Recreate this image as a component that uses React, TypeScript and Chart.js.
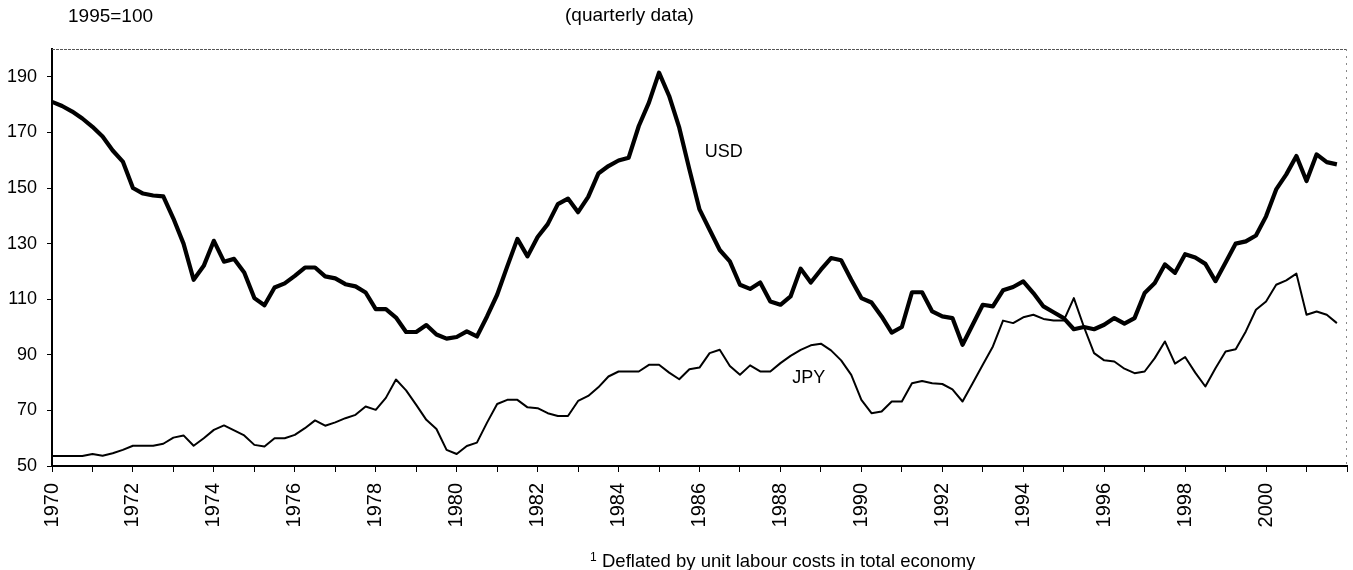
import React, { useEffect, useRef } from "react";
import { Chart, registerables } from "chart.js";

Chart.register(...registerables);

// ---- Data (quarterly, 1970Q1 .. 2001Q4) ----
const startYear = 1970;
const quartersPerYear = 4;

const usd = [
  181, 179.5, 177.5, 175,
  172, 168.5, 163.5, 159.5,
  150, 148, 147.3, 147,
  139, 130, 117, 122,
  131, 123.5, 124.5, 119.6,
  110.4, 107.8, 114.2, 115.7,
  118.4, 121.4, 121.4, 118.2,
  117.5, 115.4, 114.6, 112.4,
  106.4, 106.4, 103.4, 98.2,
  98.2, 100.7, 97.3, 95.8,
  96.4, 98.4, 96.6, 103.8,
  111.6, 121.8, 131.7, 125.4,
  132.4, 137, 144.2, 146.2,
  141.3, 146.8, 155.2, 157.9,
  159.9, 160.9, 172.3, 180.7,
  191.5, 183.1, 171.7, 156.7,
  142.3, 135, 127.7, 123.6,
  115.2, 113.7, 116, 109.2,
  108, 111, 121, 116,
  120.6, 124.8, 124, 117,
  110.4, 108.8, 103.8, 98,
  100, 112.5, 112.5, 105.6,
  103.8, 103.2, 93.6, 100.8,
  108, 107.4, 113.2, 114.4,
  116.4, 112.2, 107.4, 105.3,
  103.2, 99.2, 100, 99.2,
  100.8, 103.2, 101.2, 103.2,
  112.2, 115.8, 122.5, 119.5,
  126.2, 125, 122.7, 116.5,
  123.2, 130, 130.8, 132.9,
  139.8, 149.5, 154.9, 161.5,
  152.5, 162.1, 159.3, 158.5,
];

const jpy = [
  53.6, 53.6, 53.6, 53.6,
  54.3, 53.7, 54.6, 55.8,
  57.3, 57.3, 57.3, 58,
  60.2, 61, 57.3, 60,
  63, 64.6, 62.8, 61,
  57.6, 57, 60, 60,
  61.2, 63.6, 66.4, 64.5,
  65.7, 67.2, 68.4, 71.4,
  70.2, 74.5, 81.1, 77.2,
  72, 66.6, 63.3, 55.8,
  54.3, 57.2, 58.4, 65.6,
  72.3, 73.8, 73.8, 71.1,
  70.8, 69, 68, 68,
  73.4, 75.2, 78.3, 82.2,
  84, 84, 84, 86.4,
  86.4, 83.6, 81.2, 84.8,
  85.4, 90.6, 91.8, 86,
  82.8, 86.2, 84, 84,
  87, 89.6, 91.8, 93.4,
  94, 91.6, 88, 82.8,
  73.8, 69, 69.6, 73.2,
  73.2, 79.8, 80.6, 79.8,
  79.5, 77.6, 73.2, 79.8,
  86.4, 93, 102.3, 101.4,
  103.5, 104.4, 102.9, 102.3,
  102.3, 110.4, 100, 90.6,
  88, 87.6, 85, 83.4,
  84, 88.8, 94.8, 86.8,
  89.2, 83.6, 78.6, 85.2,
  91.2, 92, 98.4, 106.2,
  109.2, 115.2, 116.8, 119.2,
  104.4, 105.6, 104.4, 101.4,
];

const yTickValues = [50, 70, 90, 110, 130, 150, 170, 190];
const xTickYears = [
  1970, 1971, 1972, 1973, 1974, 1975, 1976, 1977, 1978, 1979, 1980,
  1981, 1982, 1983, 1984, 1985, 1986, 1987, 1988, 1989, 1990, 1991,
  1992, 1993, 1994, 1995, 1996, 1997, 1998, 1999, 2000, 2001, 2002,
];
const xLabelYears = [
  1970, 1972, 1974, 1976, 1978, 1980, 1982, 1984, 1986, 1988, 1990,
  1992, 1994, 1996, 1998, 2000,
];

const unitText = "1995=100";
const subtitleText = "(quarterly data)";
const footnoteMark = "1";
const footnoteText = "Deflated by unit labour costs in total economy";
const seriesNames = ["USD", "JPY"];

const FONT = "'Liberation Sans', Arial, Helvetica, sans-serif";

function toPoints(values: number[]) {
  return values.map((v, i) => ({ x: startYear + i / quartersPerYear, y: v }));
}

const annotationPlugin = {
  id: "annotations",
  afterDraw(chart: any) {
    const ctx = chart.ctx as CanvasRenderingContext2D;
    const xs = chart.scales.x;
    const ys = chart.scales.y;
    const ca = chart.chartArea;
    ctx.save();
    // top & right frame (dotted)
    ctx.strokeStyle = "#555";
    ctx.lineWidth = 1;
    ctx.setLineDash([3, 1]);
    ctx.beginPath();
    ctx.moveTo(ca.left, ca.top + 0.5);
    ctx.lineTo(ca.right, ca.top + 0.5);
    ctx.stroke();
    ctx.strokeStyle = "#888";
    ctx.setLineDash([2, 5]);
    ctx.beginPath();
    ctx.moveTo(ca.right - 0.5, ca.top);
    ctx.lineTo(ca.right - 0.5, ca.bottom);
    ctx.stroke();
    ctx.setLineDash([]);

    ctx.fillStyle = "#000";
    ctx.textBaseline = "middle";
    ctx.textAlign = "left";
    ctx.font = `19px ${FONT}`;
    ctx.fillText(unitText, 68, 17);
    ctx.fillText(subtitleText, 565, 16);

    // footnote
    ctx.textBaseline = "alphabetic";
    ctx.font = `12px ${FONT}`;
    ctx.fillText(footnoteMark, 590, 561);
    ctx.font = `18.5px ${FONT}`;
    ctx.fillText(footnoteText, 602, 567);

    // series labels anchored in data coordinates
    ctx.textAlign = "center";
    ctx.textBaseline = "middle";
    ctx.font = `18px ${FONT}`;
    ctx.fillText(seriesNames[0], xs.getPixelForValue(1986.6), ys.getPixelForValue(162.8));
    ctx.fillText(seriesNames[1], xs.getPixelForValue(1988.7), ys.getPixelForValue(81.7));
    ctx.restore();
  },
};

export default function App() {
  const canvasRef = useRef<HTMLCanvasElement | null>(null);

  useEffect(() => {
    document.body.style.margin = "0";
    document.body.style.overflow = "hidden";
    const canvas = canvasRef.current;
    if (!canvas) return;
    const chart = new Chart(canvas, {
      type: "line",
      data: {
        datasets: [
          {
            label: seriesNames[0],
            data: toPoints(usd),
            borderColor: "#000",
            borderWidth: 4.2,
            pointRadius: 0,
            tension: 0,
            fill: false,
            borderJoinStyle: "round",
          },
          {
            label: seriesNames[1],
            data: toPoints(jpy),
            borderColor: "#000",
            borderWidth: 2,
            pointRadius: 0,
            tension: 0,
            fill: false,
            borderJoinStyle: "round",
          },
        ],
      },
      options: {
        responsive: false,
        animation: false,
        devicePixelRatio: 1,
        layout: { padding: { top: 49, right: 6, left: 0, bottom: 0 } },
        plugins: {
          legend: { display: false },
          tooltip: { enabled: false },
          title: { display: false },
        },
        scales: {
          x: {
            type: "linear",
            min: 1970,
            max: 2002,
            afterBuildTicks: (scale: any) => {
              scale.ticks = xTickYears.map((v) => ({ value: v }));
            },
            afterFit: (scale: any) => {
              scale.height = 104;
              scale.paddingLeft = 0;
              scale.paddingRight = 0;
            },
            grid: {
              drawOnChartArea: false,
              drawTicks: true,
              tickLength: 6,
              color: "#000",
              lineWidth: 1,
            },
            border: { display: true, color: "#000", width: 2 },
            ticks: {
              autoSkip: false,
              minRotation: 90,
              maxRotation: 90,
              padding: 11,
              color: "#000",
              font: { family: FONT, size: 20 },
              callback: (value: any) =>
                xLabelYears.includes(Number(value)) ? String(value) : "",
            },
          },
          y: {
            type: "linear",
            min: 50,
            max: 200,
            afterBuildTicks: (scale: any) => {
              scale.ticks = yTickValues.map((v) => ({ value: v }));
            },
            afterFit: (scale: any) => {
              scale.width = 52;
              scale.paddingTop = 0;
              scale.paddingBottom = 0;
            },
            grid: {
              drawOnChartArea: false,
              drawTicks: true,
              tickLength: 5,
              color: "#000",
              lineWidth: 1,
            },
            border: { display: true, color: "#000", width: 2 },
            ticks: {
              padding: 10,
              color: "#000",
              font: { family: FONT, size: 18 },
              callback: (value: any) => String(value),
            },
          },
        },
      },
      plugins: [annotationPlugin],
    } as any);
    return () => chart.destroy();
  }, []);

  return (
    <div style={{ width: 1353, height: 570, position: "relative", background: "#fff" }}>
      <canvas ref={canvasRef} width={1353} height={570} style={{ display: "block" }} />
    </div>
  );
}
